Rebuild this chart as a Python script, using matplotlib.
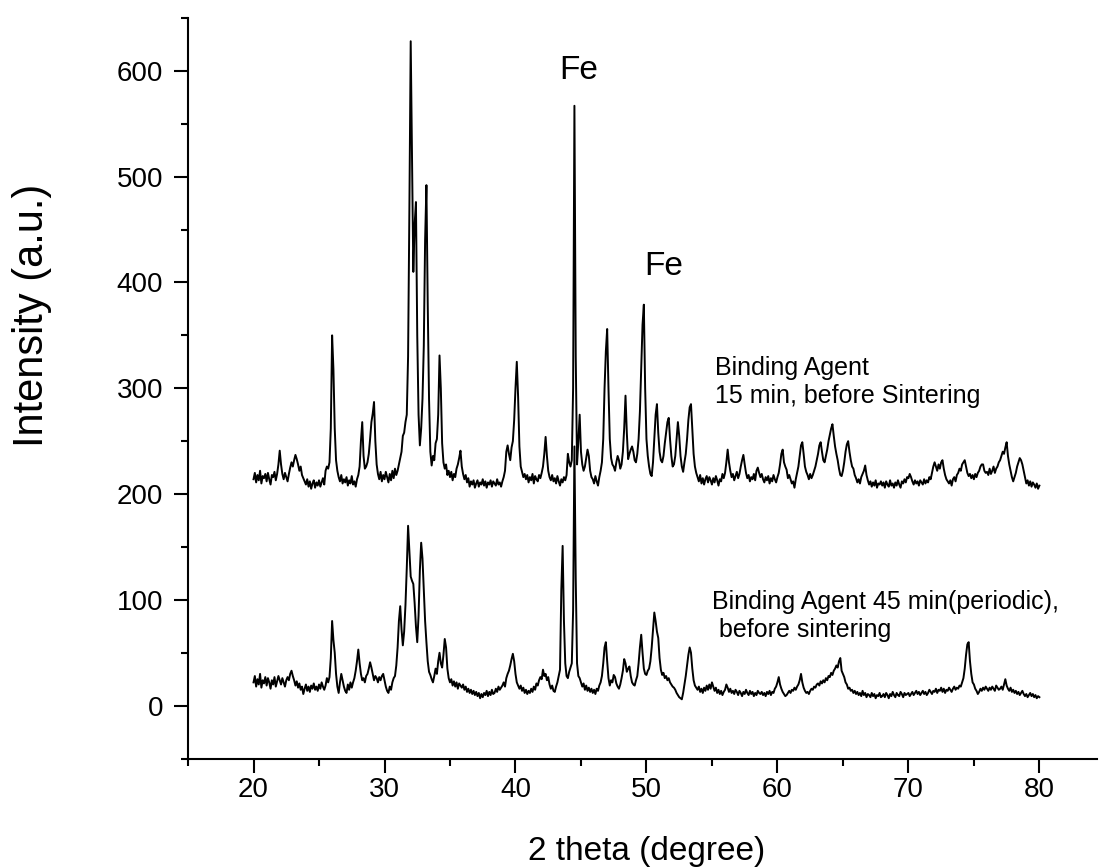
import numpy as np
import matplotlib
matplotlib.use("Agg")
import matplotlib.pyplot as plt

plt.rcParams['font.family'] = ['Liberation Sans', 'DejaVu Sans']

# scan grid: 20-80 deg, 0.1 deg step (one row = one degree)
two_theta = np.linspace(20, 80, 601)

# upper pattern: binding agent 15 min, before sintering
top_rows = [
    [214, 220, 211, 218, 213, 222, 210, 217, 215, 219],  # 20
    [212, 220, 214, 209, 218, 216, 221, 213, 219, 228],  # 21
    [241, 228, 219, 214, 220, 216, 212, 219, 225, 230],  # 22
    [226, 232, 237, 233, 228, 222, 226, 218, 215, 212],  # 23
    [209, 214, 207, 212, 205, 210, 213, 206, 211, 208],  # 24
    [213, 207, 211, 215, 209, 222, 226, 224, 230, 262],  # 25
    [350, 318, 262, 232, 222, 216, 212, 218, 210, 214],  # 26
    [211, 216, 208, 213, 210, 217, 209, 212, 207, 214],  # 27
    [218, 226, 250, 268, 236, 224, 226, 230, 238, 252],  # 28
    [268, 276, 287, 250, 228, 219, 214, 221, 212, 218],  # 29
    [214, 221, 216, 211, 219, 213, 222, 215, 224, 218],  # 30
    [222, 228, 234, 240, 255, 258, 268, 275, 330, 470],  # 31
    [628, 520, 410, 455, 476, 350, 275, 246, 262, 290],  # 32
    [340, 440, 492, 380, 290, 240, 227, 236, 232, 248],  # 33
    [252, 275, 331, 300, 248, 230, 224, 228, 218, 222],  # 34
    [216, 221, 213, 219, 216, 224, 228, 234, 241, 226],  # 35
    [219, 214, 218, 211, 215, 207, 212, 209, 213, 206],  # 36
    [210, 213, 207, 211, 209, 214, 208, 212, 206, 211],  # 37
    [209, 213, 207, 212, 210, 208, 214, 209, 211, 207],  # 38
    [212, 216, 222, 240, 246, 238, 232, 244, 250, 270],  # 39
    [300, 325, 292, 245, 226, 221, 216, 219, 214, 218],  # 40
    [211, 216, 213, 219, 210, 217, 214, 212, 218, 215],  # 41
    [220, 226, 238, 254, 236, 222, 216, 213, 218, 212],  # 42
    [215, 210, 217, 212, 208, 214, 211, 216, 213, 218],  # 43
    [238, 230, 226, 232, 300, 567, 330, 228, 250, 275],  # 44
    [240, 228, 222, 226, 234, 242, 236, 222, 216, 214],  # 45
    [210, 217, 212, 208, 216, 222, 230, 252, 300, 335],  # 46
    [356, 300, 252, 234, 228, 226, 222, 230, 236, 232],  # 47
    [224, 228, 240, 262, 293, 258, 233, 238, 242, 245],  # 48
    [240, 232, 230, 238, 252, 278, 320, 360, 379, 300],  # 49
    [252, 236, 226, 219, 217, 230, 252, 275, 285, 258],  # 50
    [240, 232, 230, 236, 248, 258, 268, 272, 252, 236],  # 51
    [226, 228, 236, 252, 268, 255, 236, 226, 221, 230],  # 52
    [238, 252, 270, 282, 285, 262, 238, 226, 220, 216],  # 53
    [212, 218, 210, 215, 209, 214, 217, 211, 216, 213],  # 54
    [209, 215, 211, 217, 213, 208, 214, 212, 219, 215],  # 55
    [220, 230, 242, 230, 222, 216, 219, 213, 217, 221],  # 56
    [215, 219, 226, 232, 237, 228, 220, 215, 218, 212],  # 57
    [216, 214, 219, 213, 222, 225, 220, 216, 219, 214],  # 58
    [211, 216, 213, 217, 210, 215, 212, 218, 214, 211],  # 59
    [216, 220, 228, 238, 242, 230, 226, 223, 215, 218],  # 60
    [214, 210, 212, 206, 214, 220, 226, 236, 246, 249],  # 61
    [238, 226, 221, 218, 214, 219, 215, 218, 222, 226],  # 62
    [232, 238, 246, 249, 240, 232, 230, 236, 242, 250],  # 63
    [256, 262, 266, 255, 245, 238, 232, 224, 218, 217],  # 64
    [222, 230, 240, 247, 250, 240, 232, 226, 224, 218],  # 65
    [215, 211, 214, 210, 216, 219, 222, 227, 218, 213],  # 66
    [209, 212, 207, 211, 208, 213, 206, 210, 209, 212],  # 67
    [208, 211, 206, 212, 209, 207, 213, 208, 210, 206],  # 68
    [211, 208, 213, 209, 206, 212, 210, 214, 211, 216],  # 69
    [215, 219, 216, 212, 209, 213, 210, 212, 208, 213],  # 70
    [211, 209, 214, 210, 213, 211, 216, 214, 220, 226],  # 71
    [230, 226, 222, 228, 224, 230, 232, 224, 218, 214],  # 72
    [212, 210, 213, 208, 214, 216, 212, 218, 220, 224],  # 73
    [222, 228, 230, 232, 226, 220, 217, 219, 215, 218],  # 74
    [214, 219, 216, 220, 222, 226, 228, 228, 222, 220],  # 75
    [221, 218, 224, 219, 222, 226, 220, 224, 226, 230],  # 76
    [232, 236, 240, 238, 244, 249, 236, 228, 222, 216],  # 77
    [212, 216, 220, 226, 230, 234, 232, 228, 222, 216],  # 78
    [210, 213, 208, 212, 207, 211, 209, 206, 210, 205],  # 79
    [208],                                               # 80
]

# lower pattern: binding agent 45 min (periodic), before sintering
bottom_rows = [
    [22, 28, 18, 25, 20, 30, 17, 24, 21, 27],    # 20
    [19, 26, 22, 16, 24, 20, 27, 18, 23, 28],    # 21
    [24, 20, 26, 22, 18, 24, 27, 24, 30, 33],    # 22
    [28, 24, 19, 23, 17, 21, 15, 18, 11, 16],    # 23
    [20, 14, 18, 13, 19, 16, 21, 15, 18, 14],    # 24
    [20, 16, 22, 18, 15, 19, 26, 22, 27, 45],    # 25
    [80, 62, 50, 30, 18, 12, 22, 30, 24, 18],    # 26
    [14, 12, 20, 15, 22, 17, 22, 26, 33, 42],    # 27
    [53, 40, 30, 24, 26, 22, 28, 30, 35, 41],    # 28
    [36, 30, 24, 28, 26, 22, 27, 24, 28, 30],    # 29
    [24, 18, 14, 12, 18, 15, 22, 26, 28, 38],    # 30
    [55, 80, 94, 72, 57, 70, 95, 130, 170, 145], # 31
    [122, 118, 115, 97, 75, 60, 85, 128, 154, 139],  # 32
    [110, 80, 60, 42, 32, 29, 25, 22, 28, 35],   # 33
    [30, 42, 50, 40, 36, 48, 63, 55, 35, 26],    # 34
    [22, 25, 19, 23, 18, 22, 16, 21, 19, 17],    # 35
    [20, 15, 18, 13, 16, 12, 15, 11, 14, 10],    # 36
    [13, 9, 12, 7, 11, 8, 12, 10, 14, 9],        # 37
    [13, 10, 15, 11, 12, 16, 13, 18, 15, 17],    # 38
    [19, 22, 18, 26, 30, 33, 38, 44, 49, 42],    # 39
    [30, 22, 19, 16, 19, 14, 17, 12, 15, 11],    # 40
    [14, 12, 16, 13, 18, 15, 21, 19, 24, 27],    # 41
    [25, 34, 28, 30, 24, 27, 20, 16, 19, 14],    # 42
    [13, 18, 22, 28, 34, 110, 151, 80, 40, 28],  # 43
    [26, 32, 36, 40, 90, 245, 120, 40, 28, 26],  # 44
    [22, 18, 21, 15, 19, 14, 17, 13, 16, 12],    # 45
    [15, 11, 16, 14, 19, 22, 28, 40, 55, 60],    # 46
    [42, 26, 19, 24, 22, 29, 27, 21, 18, 16],    # 47
    [20, 26, 33, 44, 40, 32, 35, 37, 28, 22],    # 48
    [20, 19, 24, 28, 40, 55, 67, 50, 35, 30],    # 49
    [29, 33, 35, 42, 55, 72, 88, 80, 70, 64],    # 50
    [45, 34, 29, 31, 26, 28, 24, 26, 22, 20],    # 51
    [18, 17, 15, 12, 10, 8, 7, 6, 12, 20],       # 52
    [28, 38, 48, 55, 50, 35, 24, 19, 17, 15],    # 53
    [18, 13, 16, 12, 17, 14, 19, 15, 20, 16],    # 54
    [22, 18, 14, 17, 12, 15, 11, 14, 10, 13],    # 55
    [15, 20, 17, 13, 16, 12, 14, 11, 15, 13],    # 56
    [10, 14, 12, 9, 13, 11, 15, 12, 10, 14],     # 57
    [11, 13, 9, 12, 10, 14, 12, 11, 13, 10],     # 58
    [12, 9, 13, 11, 14, 10, 13, 12, 16, 18],     # 59
    [22, 27, 20, 16, 13, 11, 9, 10, 12, 14],     # 60
    [12, 15, 14, 17, 15, 18, 20, 24, 30, 22],    # 61
    [17, 14, 12, 13, 11, 14, 16, 15, 18, 17],    # 62
    [20, 21, 19, 23, 21, 24, 22, 26, 24, 28],    # 63
    [27, 31, 29, 33, 35, 38, 36, 42, 45, 33],    # 64
    [30, 27, 22, 20, 16, 17, 14, 15, 12, 14],    # 65
    [11, 13, 10, 12, 9, 14, 10, 12, 8, 11],      # 66
    [10, 8, 12, 9, 11, 7, 10, 9, 12, 8],         # 67
    [9, 11, 8, 12, 10, 7, 11, 9, 13, 10],        # 68
    [8, 12, 10, 9, 13, 11, 8, 12, 10, 11],       # 69
    [12, 9, 11, 13, 10, 12, 14, 11, 13, 10],     # 70
    [12, 14, 11, 13, 10, 12, 15, 13, 11, 14],    # 71
    [13, 16, 12, 15, 14, 17, 13, 16, 12, 15],    # 72
    [14, 17, 15, 13, 16, 18, 15, 17, 16, 19],    # 73
    [18, 22, 26, 35, 48, 58, 60, 42, 30, 22],    # 74
    [20, 16, 14, 11, 13, 16, 14, 17, 15, 18],    # 75
    [16, 14, 17, 15, 18, 16, 14, 19, 17, 15],    # 76
    [16, 18, 15, 20, 25, 19, 16, 14, 17, 13],    # 77
    [15, 12, 14, 11, 13, 10, 12, 14, 11, 9],     # 78
    [11, 8, 10, 12, 9, 11, 8, 10, 7, 9],         # 79
    [8],                                         # 80
]

top_intensity = [v for row in top_rows for v in row]
bottom_intensity = [v for row in bottom_rows for v in row]

x_ticks = [20, 30, 40, 50, 60, 70, 80]
y_ticks = [0, 100, 200, 300, 400, 500, 600]

fig = plt.figure(figsize=(10.99, 8.68), dpi=100)
ax = fig.add_axes([0.1711, 0.1261, 0.8271, 0.8532])

ax.plot(two_theta, top_intensity, color='black', lw=1.4)
ax.plot(two_theta, bottom_intensity, color='black', lw=1.4)

ax.set_xlim(15, 84.4)
ax.set_ylim(-50, 650)
ax.set_xticks(x_ticks)
ax.set_yticks(y_ticks)
ax.set_xticks(np.arange(15, 85, 5), minor=True)
ax.set_yticks(np.arange(-50, 651, 50), minor=True)

for side in ['top', 'right']:
    ax.spines[side].set_visible(False)
for side in ['left', 'bottom']:
    ax.spines[side].set_linewidth(1.5)

ax.tick_params(which='major', direction='out', length=10, width=1.5,
               labelsize=20)
ax.tick_params(which='minor', direction='out', length=5, width=1.5)
ax.tick_params(axis='y', which='major', pad=8)
ax.tick_params(axis='x', which='major', pad=3.5)

ax.set_xlabel('2 theta (degree)', fontsize=24)
ax.set_ylabel('Intensity (a.u.)', fontsize=30)
ax.xaxis.set_label_coords(0.504, -0.1047)
ax.yaxis.set_label_coords(-0.150, 0.599)

ax.text(44.85, 600, 'Fe', fontsize=24, ha='center', va='center')
ax.text(51.3, 415, 'Fe', fontsize=24, ha='center', va='center')
ax.text(55.2, 306, 'Binding Agent\n15 min, before Sintering',
        fontsize=18, ha='left', va='center', linespacing=1.2)
ax.text(55.0, 85, 'Binding Agent 45 min(periodic),\n before sintering',
        fontsize=18, ha='left', va='center', linespacing=1.2)

fig.savefig('out.png', dpi=100)
